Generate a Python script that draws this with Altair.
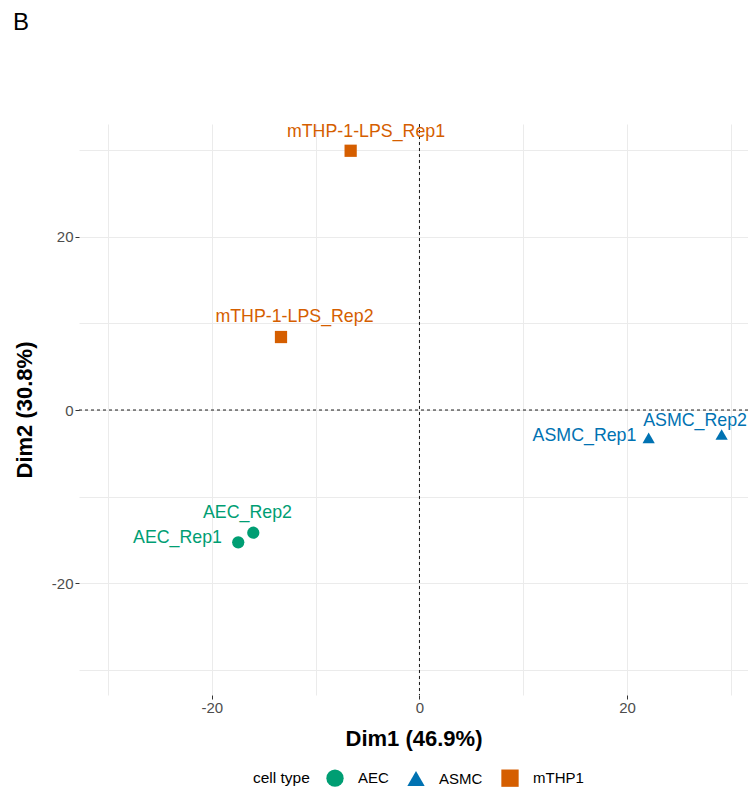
import altair as alt
import pandas as pd

# ---- data ----
samples = ["AEC_Rep1", "AEC_Rep2", "ASMC_Rep1", "ASMC_Rep2",
           "mTHP-1-LPS_Rep1", "mTHP-1-LPS_Rep2"]
cell_type = ["AEC", "AEC", "ASMC", "ASMC", "mTHP1", "mTHP1"]
dim1 = [-17.46, -16.01, 22.08, 29.11, -6.63, -13.34]
dim2 = [-15.28, -14.17, -3.22, -2.83, 29.94, 8.43]
# repelled label anchor positions (data units)
label_dim1 = [-23.31, -16.57, 15.90, 26.55, -5.15, -12.04]
label_dim2 = [-15.36, -12.47, -3.58, -1.85, 31.52, 10.16]

types = ["AEC", "ASMC", "mTHP1"]
type_colors = ["#009E73", "#0072B2", "#D55E00"]
type_shapes = ["circle", "triangle-up", "square"]

grid_values = [-30, -20, -10, 0, 10, 20, 30]
x_domain = [-32.80, 31.65]
y_domain = [-32.91, 33.03]

df = pd.DataFrame({
    "sample": samples, "cell type": cell_type,
    "dim1": dim1, "dim2": dim2,
    "lx": label_dim1, "ly": label_dim2,
})
zero_df = pd.DataFrame({"z": [0]})

FONT = "Liberation Sans"
label_expr = "datum.value % 20 === 0 ? toString(datum.value) : ''"
tick_op = {"condition": {"test": "datum.value % 20 === 0", "value": 1}, "value": 0}

x_scale = alt.Scale(domain=x_domain, nice=False, zero=False)
y_scale = alt.Scale(domain=y_domain, nice=False, zero=False)

x_axis = alt.Axis(title="Dim1 (46.9%)", values=grid_values, labelExpr=label_expr,
                  tickOpacity=tick_op, titleY=43, titleBaseline="middle",
                  labelPadding=1)
y_axis = alt.Axis(title="Dim2 (30.8%)", values=grid_values, labelExpr=label_expr,
                  tickOpacity=tick_op, titleX=-55, titleY=285.5, titleAngle=-90,
                  titleBaseline="middle", titleAlign="center", labelPadding=2)

color_enc = alt.Color("cell type:N",
                      scale=alt.Scale(domain=types, range=type_colors),
                      legend=alt.Legend(title="cell type", orient="none",
                                        legendX=174, legendY=645,
                                        direction="horizontal", titleOrient="left",
                                        symbolSize=300, labelFontSize=15,
                                        titleFontSize=15.5, titleFontWeight="normal",
                                        titlePadding=16, columnPadding=18,
                                        labelOffset=14, titleColor="black",
                                        labelColor="black", titleFont=FONT,
                                        labelFont=FONT, symbolStrokeWidth=0))
shape_enc = alt.Shape("cell type:N",
                      scale=alt.Scale(domain=types, range=type_shapes))

points = alt.Chart(df).mark_point(filled=True, opacity=1, size=150).encode(
    x=alt.X("dim1:Q", scale=x_scale, axis=x_axis),
    y=alt.Y("dim2:Q", scale=y_scale, axis=y_axis),
    color=color_enc,
    shape=shape_enc,
)

vline = alt.Chart(zero_df).mark_rule(color="black", strokeDash=[3, 3],
                                     strokeWidth=0.9).encode(x=alt.datum(0))
hline = alt.Chart(zero_df).mark_rule(color="black", strokeDash=[3, 3],
                                     strokeWidth=0.9).encode(y=alt.datum(0))

labels = alt.Chart(df).mark_text(fontSize=17.8, font=FONT, align="center",
                                 baseline="alphabetic").encode(
    x=alt.X("lx:Q", scale=x_scale),
    y=alt.Y("ly:Q", scale=y_scale),
    text="sample:N",
    color=alt.Color("cell type:N", scale=alt.Scale(domain=types, range=type_colors),
                    legend=None),
)

chart = alt.layer(points, vline, hline, labels).properties(
    width=669, height=571,
    autosize=alt.AutoSizeParams(type="none"),
    padding={"left": 71, "top": 116, "right": 0, "bottom": 92},
    title=alt.TitleParams("B", anchor="start", frame="group", dx=-66, offset=88,
                          fontSize=24, fontWeight="normal", color="black",
                          font=FONT),
).configure_view(stroke=None).configure_axis(
    domain=False, grid=True, gridColor="#EBEBEB", gridWidth=1,
    labelColor="#4D4D4D", labelFont=FONT, labelFontSize=15,
    titleFont=FONT, titleFontSize=22, titleFontWeight="bold", titleColor="black",
    tickColor="#333333", tickSize=4, tickWidth=1,
)

chart.save("out.html", embed_options={"renderer": "svg", "actions": False})
